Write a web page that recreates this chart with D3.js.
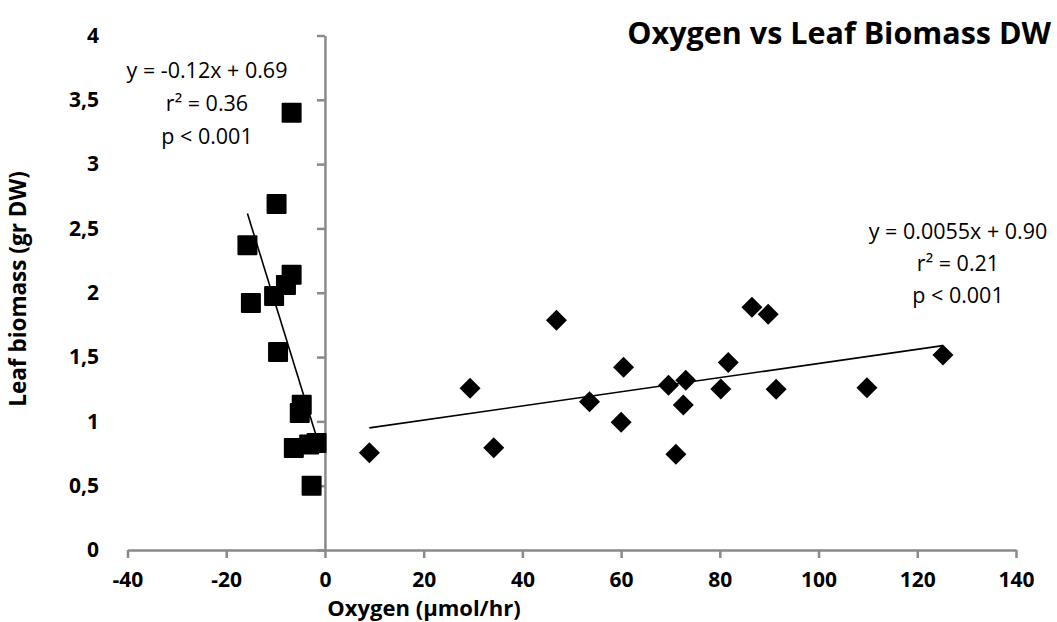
<!DOCTYPE html>
<html>
<head>
<meta charset="utf-8">
<script src="https://cdn.jsdelivr.net/npm/d3@7"></script>
<style>
  html, body { margin: 0; padding: 0; background: #fff; }
  svg { display: block; font-family: "Open Sans", sans-serif; }
  svg text { font-family: "Open Sans", sans-serif; }
</style>
</head>
<body>
<svg id="chart" width="1057" height="622"></svg>
<script>
// ---- data ----
const xTicks = [-40, -20, 0, 20, 40, 60, 80, 100, 120, 140];
const yTicks = [0, 0.5, 1, 1.5, 2, 2.5, 3, 3.5, 4];
const yTickLabels = ["0", "0,5", "1", "1,5", "2", "2,5", "3", "3,5", "4"];

const negX = [-6.75, -9.8, -15.7, -6.75, -7.9, -10.3, -15.0, -9.5, -4.7, -5.1, -6.3, -3.2, -1.7, -2.7];
const negY = [3.40, 2.69, 2.37, 2.14, 2.06, 1.975, 1.92, 1.54, 1.13, 1.065, 0.793, 0.82, 0.832, 0.50];

const posX = [9.0, 29.4, 34.2, 46.9, 53.6, 60.5, 60.0, 69.6, 73.1, 72.6, 71.1, 80.2, 81.7, 86.5, 89.8, 91.4, 109.8, 125.2];
const posY = [0.757, 1.257, 0.795, 1.786, 1.153, 1.42, 0.993, 1.28, 1.32, 1.128, 0.744, 1.252, 1.457, 1.887, 1.833, 1.25, 1.262, 1.516];

const negFit = { slope: -0.124, intercept: 0.669, from: -15.7, to: -1.6 };
const posFit = { slope: 0.0055, intercept: 0.90, from: 9.0, to: 125.2 };

const negLabels = ["y = -0.12x + 0.69", "r² = 0.36", "p < 0.001"];
const posLabels = ["y = 0.0055x + 0.90", "r² = 0.21", "p < 0.001"];

const title = "Oxygen vs Leaf Biomass DW";
const xTitle = "Oxygen (µmol/hr)";
const yTitle = "Leaf biomass (gr DW)";

// ---- drawing ----
const svg = d3.select("#chart");
const x = d3.scaleLinear().domain([-40, 140]).range([127.5, 1016]);
const y = d3.scaleLinear().domain([0, 4]).range([550, 35.5]);
const axisColor = "#8a8a8a";

// x axis at y=0
const xAxis = svg.append("g")
  .attr("transform", `translate(0,${y(0)})`)
  .call(d3.axisBottom(x).tickValues(xTicks).tickSizeOuter(0).tickSizeInner(8).tickPadding(14)
        .tickFormat(d => d.toString()));
xAxis.attr("font-family", "Open Sans").attr("font-size", 21).attr("font-weight", "bold");
xAxis.select(".domain").attr("stroke", axisColor).attr("stroke-width", 2.5);
xAxis.selectAll(".tick line").attr("stroke", axisColor).attr("stroke-width", 2.5);
xAxis.selectAll(".tick text").attr("fill", "#000");

// y axis at x=0
const yAxis = svg.append("g")
  .attr("transform", `translate(${x(0)},0)`)
  .call(d3.axisLeft(y).tickValues(yTicks).tickSizeOuter(0).tickSizeInner(8)
        .tickFormat((d, i) => yTickLabels[i]));
yAxis.attr("font-family", "Open Sans").attr("font-size", 21).attr("font-weight", "bold");
yAxis.select(".domain").attr("stroke", axisColor).attr("stroke-width", 2.5);
yAxis.selectAll(".tick line").attr("stroke", axisColor).attr("stroke-width", 2.5);
yAxis.selectAll(".tick text").attr("fill", "#000")
  .attr("x", 99 - x(0)).attr("text-anchor", "end");

// trendlines
const line = d3.line().x(d => x(d[0])).y(d => y(d[1]));
[negFit, posFit].forEach(f => {
  svg.append("path")
    .datum([[f.from, f.slope * f.from + f.intercept], [f.to, f.slope * f.to + f.intercept]])
    .attr("d", line).attr("fill", "none").attr("stroke", "#000").attr("stroke-width", 1.6);
});

// squares
const sq = 20;
svg.append("g").selectAll("rect").data(negX.map((v, i) => [v, negY[i]])).join("rect")
  .attr("x", d => x(d[0]) - sq / 2).attr("y", d => y(d[1]) - sq / 2)
  .attr("width", sq).attr("height", sq).attr("rx", 1).attr("fill", "#000");

// diamonds
const dr = 10.5;
svg.append("g").selectAll("path").data(posX.map((v, i) => [v, posY[i]])).join("path")
  .attr("d", d => {
    const cx = x(d[0]), cy = y(d[1]);
    return `M${cx},${cy - dr}L${cx + dr},${cy}L${cx},${cy + dr}L${cx - dr},${cy}Z`;
  })
  .attr("fill", "#000");

// equation labels
negLabels.forEach((t, i) => {
  svg.append("text").attr("x", 207).attr("y", 78 + i * 33)
    .attr("text-anchor", "middle").style("font-size", "21.5px").attr("fill", "#000").text(t);
});
posLabels.forEach((t, i) => {
  svg.append("text").attr("x", 958).attr("y", 239 + i * 32)
    .attr("text-anchor", "middle").style("font-size", "21.5px").attr("fill", "#000").text(t);
});

// title
svg.append("text").attr("x", 1051).attr("y", 44).attr("text-anchor", "end")
  .style("font-size", "30.5px").style("font-weight", "bold").attr("fill", "#000").text(title);

// axis titles
svg.append("text").attr("x", 424).attr("y", 616).attr("text-anchor", "middle")
  .style("font-size", "22px").style("font-weight", "bold").attr("fill", "#000").text(xTitle);
svg.append("text").attr("transform", "translate(26,289) rotate(-90)").attr("text-anchor", "middle")
  .style("font-size", "22.5px").style("font-weight", "bold").attr("fill", "#000").text(yTitle);
</script>
</body>
</html>
